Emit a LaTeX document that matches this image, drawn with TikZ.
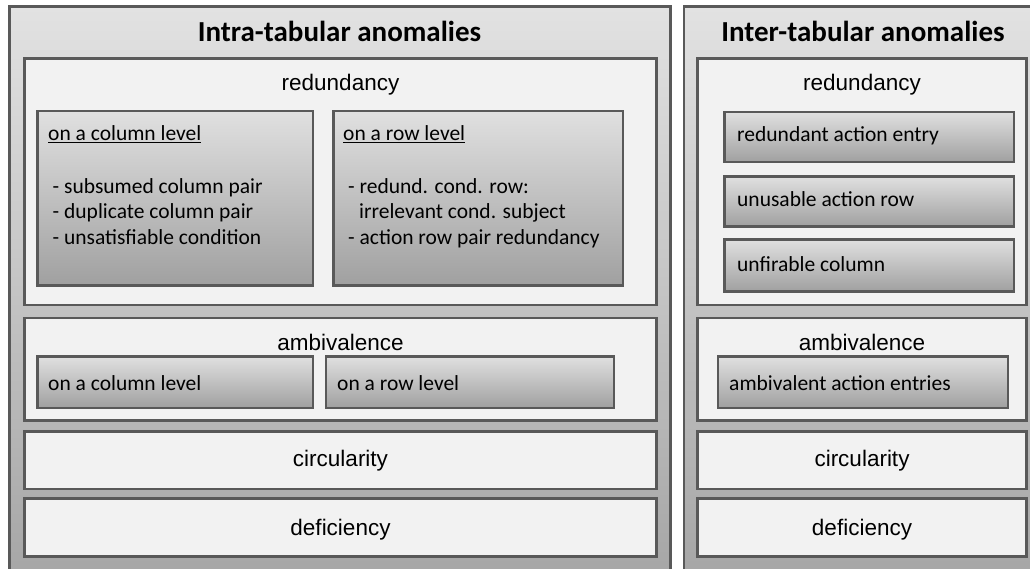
\documentclass[tikz,border=0pt]{standalone}
\usepackage{fontspec}
\setmainfont{Carlito}
\newfontfamily\labelfont{Liberation Sans}
\usetikzlibrary{fit}

\definecolor{edge}{HTML}{595959}
\definecolor{panel}{HTML}{F2F2F2}
\definecolor{shadetop}{HTML}{E2E2E2}
\definecolor{shadebot}{HTML}{A6A6A6}
\definecolor{cardtop}{HTML}{E0E0E0}
\definecolor{cardbot}{HTML}{A0A0A0}

\tikzset{
  frame/.style={draw=edge, line width=2.6pt, top color=shadetop, bottom color=shadebot, inner sep=0pt},
  panelbox/.style={draw=edge, line width=2.6pt, fill=panel, inner sep=0pt},
  card/.style={draw=edge, line width=2.4pt, top color=cardtop, bottom color=cardbot, inner sep=0pt},
  heading/.style={font=\fontsize{29}{33}\selectfont\bfseries, anchor=base, inner sep=0pt},
  section/.style={font=\labelfont\fontsize{22.5}{26}\selectfont, anchor=base, inner sep=0pt},
  item/.style={font=\fontsize{21.5}{25}\selectfont, anchor=base west, inner sep=0pt},
}

\begin{document}
\begin{tikzpicture}[x=1pt,y=-1pt]
\useasboundingbox (0,0) rectangle (1030,568);

% outer frames
\node[frame, fit={(9.5,6.5) (670.5,575)}] (intra) {};
\node[frame, fit={(684,6.5) (1050,575)}] (inter) {};
\node[heading] (intratitle) at (339.5,41.7) {Intra-tabular anomalies};
\node[heading] (intertitle) at (863,41.7) {Inter-tabular anomalies};

% intra-tabular panels
\node[panelbox, fit={(24.5,58.5) (656.5,305)}] (ired) {};
\node[panelbox, fit={(24.5,318) (656.5,420.5)}] (iamb) {};
\node[panelbox, fit={(24.5,431.5) (656.5,489)}] (icirc) {};
\node[panelbox, fit={(24.5,498.5) (656.5,556.5)}] (idef) {};
\node[section] (iredlbl) at (340.5,90.7) {redundancy};
\node[section] (iamblbl) at (340.5,350) {ambivalence};
\node[section] (icirclbl) at (340.5,466.7) {circularity};
\node[section] (ideflbl) at (340.5,535) {deficiency};

% redundancy cards
\node[card, fit={(37.5,111) (313,285.5)}] (colred) {};
\node[card, fit={(333.5,111) (623,285.5)}] (rowred) {};
\node[item] (colhead) at (48,140.7) {\underline{on a column level}};
\node[item] (col1) at (52.5,193.3) {- subsumed column pair};
\node[item] (col2) at (52.5,218.8) {- duplicate column pair};
\node[item] (col3) at (52.5,244) {- unsatisfiable condition};
\node[item] (rowhead) at (343,140.7) {\underline{on a row level}};
\node[item] (row1) at (348,193.3) {- redund. cond. row:};
\node[item] (row2) at (359,218.8) {irrelevant cond. subject};
\node[item] (row3) at (348,244) {- action row pair redundancy};

% ambivalence cards
\node[card, fit={(37.5,356.5) (313,408)}] (colamb) {};
\node[card, fit={(326,356.5) (614,408)}] (rowamb) {};
\node[item] (colambtxt) at (48,390) {on a column level};
\node[item] (rowambtxt) at (337,390) {on a row level};

% inter-tabular panels
\node[panelbox, fit={(697.5,58.5) (1026.5,305)}] (ered) {};
\node[panelbox, fit={(697.5,318) (1026.5,420.5)}] (eamb) {};
\node[panelbox, fit={(697.5,431.5) (1026.5,489)}] (ecirc) {};
\node[panelbox, fit={(697.5,498.5) (1026.5,556.5)}] (edef) {};
\node[section] (eredlbl) at (862,90.7) {redundancy};
\node[section] (eamblbl) at (862,350) {ambivalence};
\node[section] (ecirclbl) at (862,466.7) {circularity};
\node[section] (edeflbl) at (862,535) {deficiency};

\node[card, fit={(724.5,112) (1014,162)}] (entry) {};
\node[card, fit={(724.5,176.5) (1014,226.5)}] (unusable) {};
\node[card, fit={(724.5,239.5) (1014,291.5)}] (unfirable) {};
\node[card, fit={(718,356.5) (1008,408)}] (ambent) {};
\node[item] (entrytxt) at (737,141.7) {redundant action entry};
\node[item] (unusabletxt) at (737,206.7) {unusable action row};
\node[item] (unfirabletxt) at (737,271.7) {unfirable column};
\node[item] (ambenttxt) at (729,390) {ambivalent action entries};
\end{tikzpicture}
\end{document}
